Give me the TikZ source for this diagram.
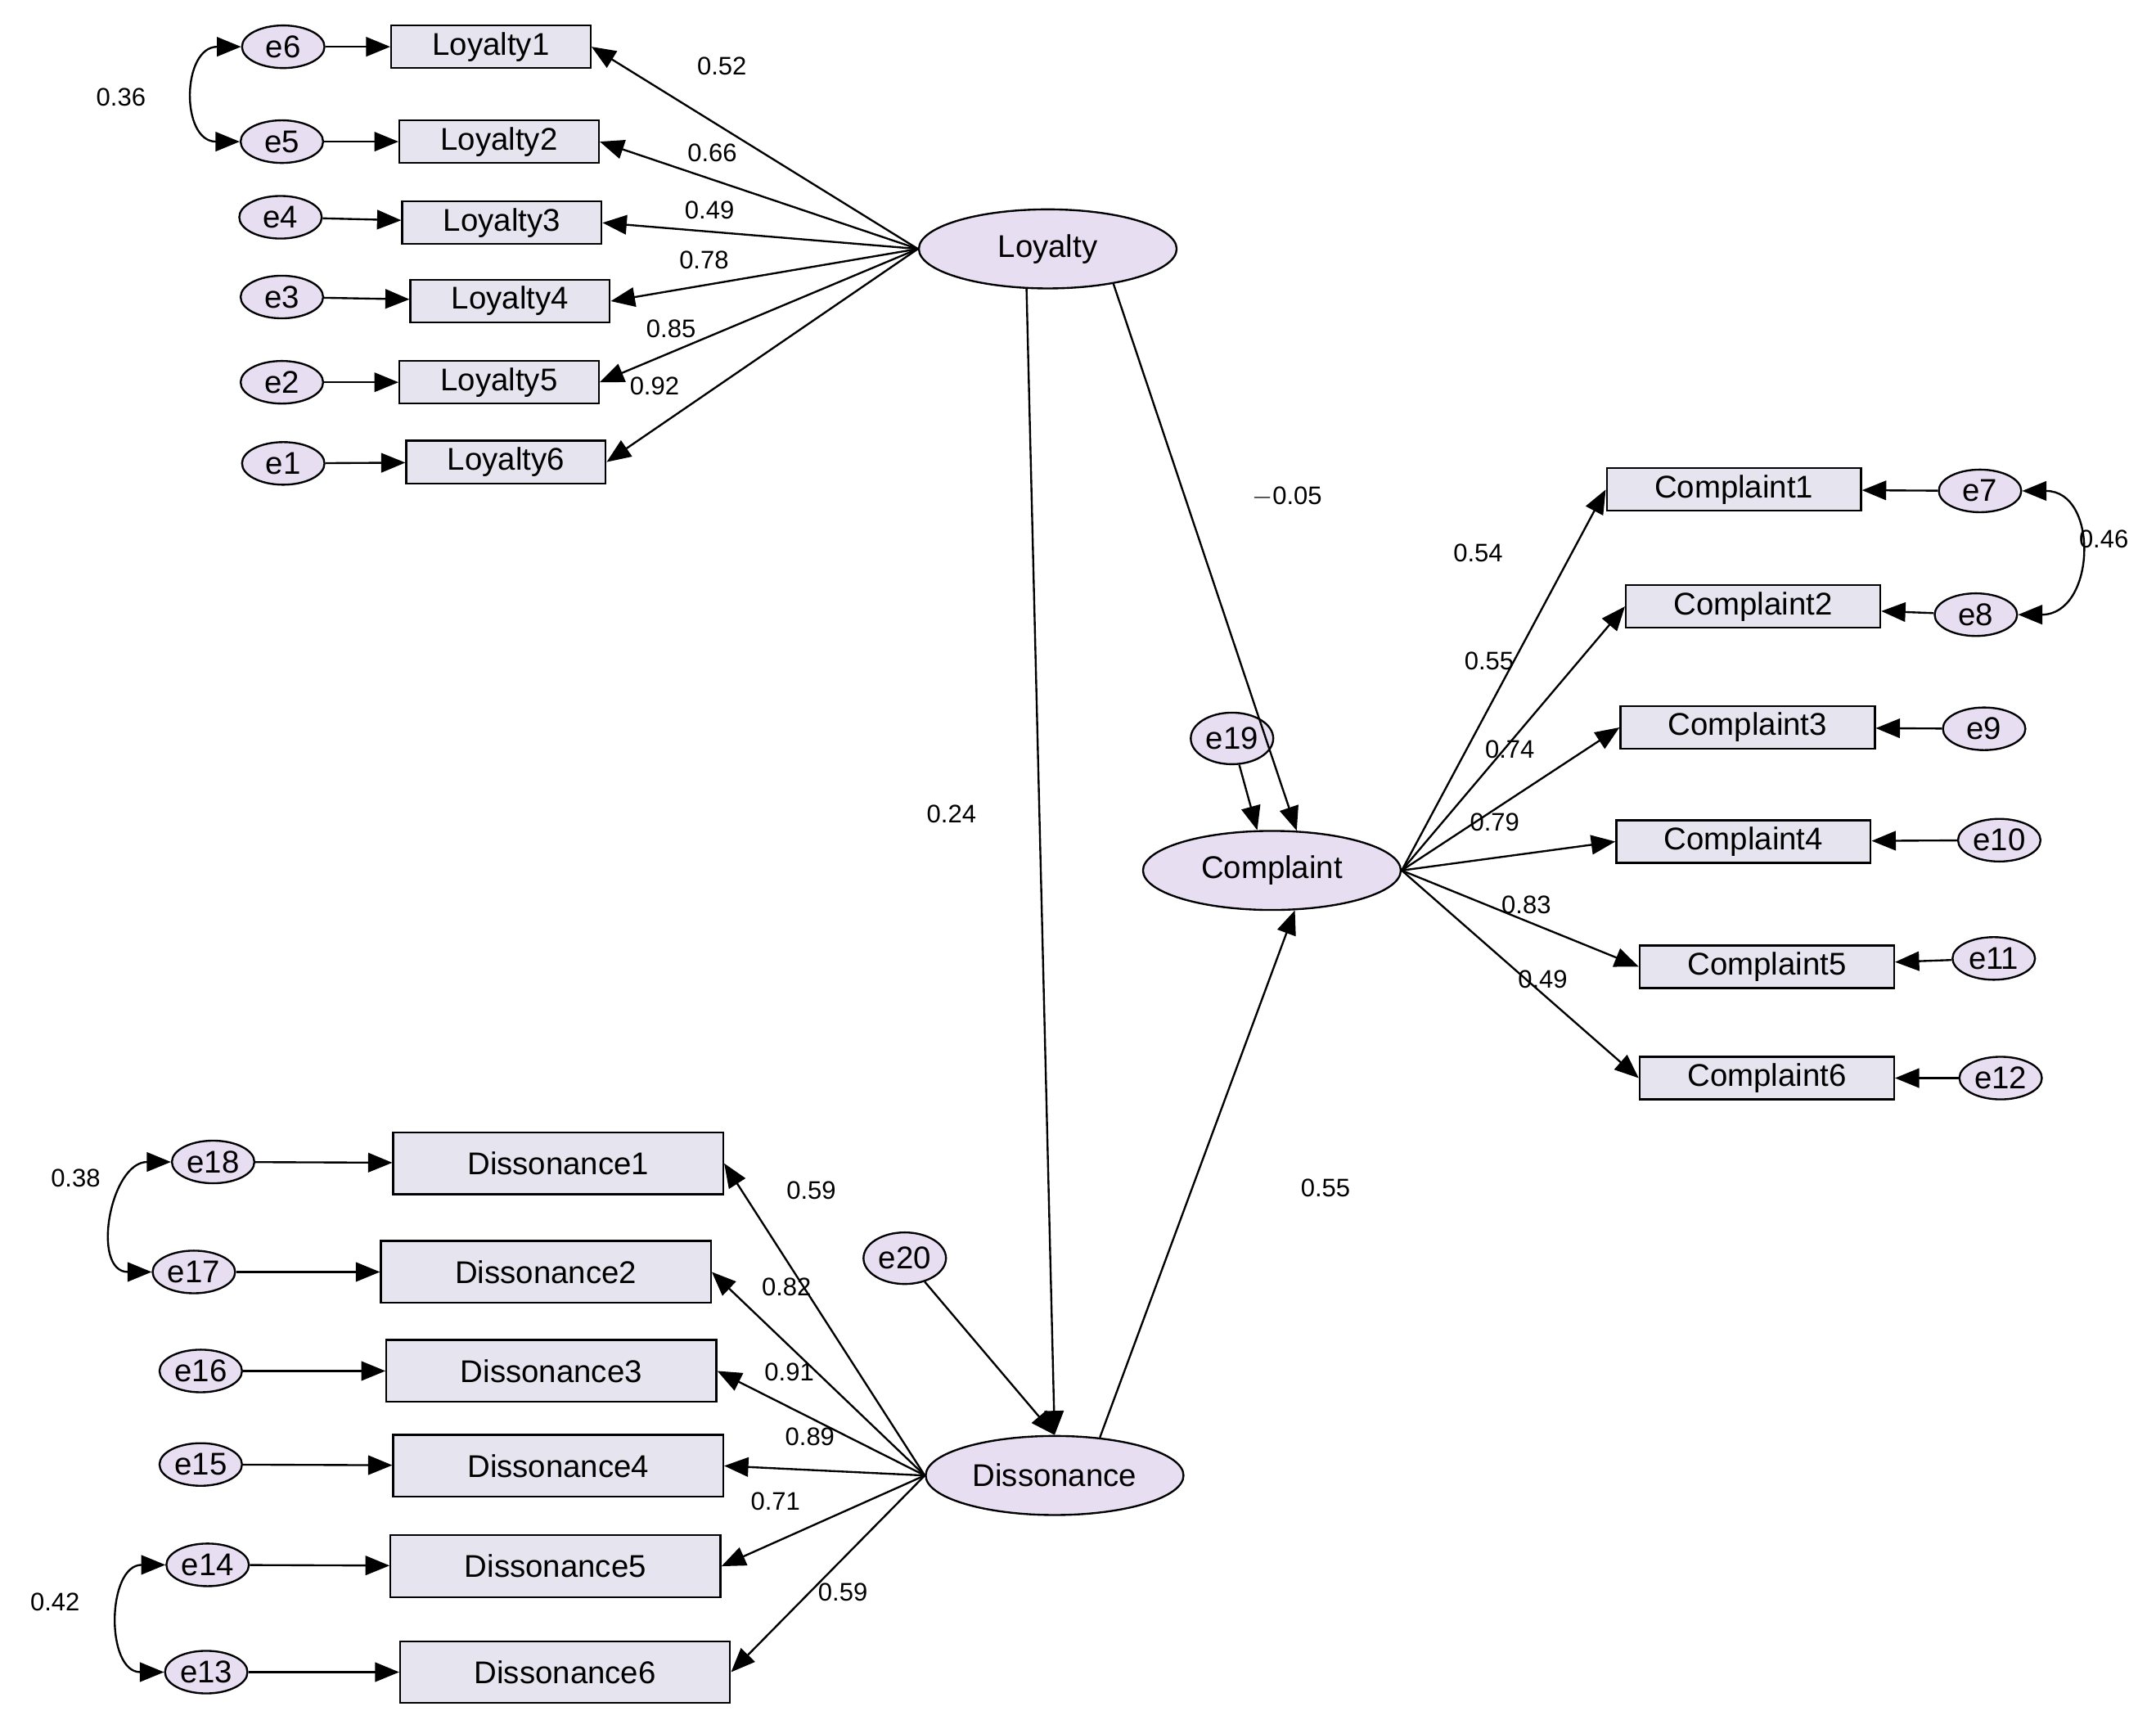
\documentclass[tikz,border=0pt]{standalone}
\usepackage{fontspec}
\setmainfont{Liberation Sans}
\usetikzlibrary{shapes.geometric,arrows.meta}
\definecolor{latfill}{RGB}{232,222,242}
\definecolor{boxfill}{RGB}{230,228,238}
\tikzset{
  lat/.style={ellipse, draw, thick, fill=latfill, minimum width=3.75cm, minimum height=1.15cm, font=\fontsize{13}{13}\selectfont},
  err/.style={ellipse, draw, thick, fill=latfill, minimum width=1.2cm, minimum height=0.62cm, inner sep=0pt, font=\fontsize{13}{13}\selectfont},
  obs/.style={rectangle, draw, thick, fill=boxfill, minimum height=0.62cm, inner sep=1pt, font=\fontsize{13}{13}\selectfont},
  lbl/.style={font=\fontsize{10.5}{10.5}\selectfont},
  arr/.style={thick, -{Triangle[length=10pt, width=8pt]}},
  cov/.style={thick, {Triangle[length=10pt, width=8pt]}-{Triangle[length=10pt, width=8pt]}}
}
\begin{document}
\begin{tikzpicture}[x=0.02cm, y=-0.02cm]
    \useasboundingbox (0,0) rectangle (1568,1257);
    %latent variables
    \node[lat] (loy) at (762,181) {Loyalty};
    \node[lat] (comp) at (925,633) {Complaint};
    \node[lat] (diss) at (767,1073) {Dissonance};
    %Loyalty items
    \foreach \i/\x/\y/\ex/\ey/\en in {1/357/34/206/34/e6, 2/363/103/205/103/e5, 3/365/162/204/158/e4, 4/371/219/205/216/e3, 5/363/278/205/278/e2, 6/368/336/206/337/e1} {
        \node[obs, minimum width=2.9cm] (loy\i) at (\x,\y) {Loyalty\i};
        \node[err] (eloy\i) at (\ex,\ey) {\en};
        \draw[arr] (eloy\i) -- (loy\i);
        \draw[arr] (loy.west) -- (loy\i.east);
    }
    %Complaint items
    \foreach \i/\x/\y/\ex/\ey/\en in {1/1261/356/1440/357/e7, 2/1275/441/1437/447/e8, 3/1271/529/1443/530/e9, 4/1268/612/1454/611/e10, 5/1285/703/1450/697/e11, 6/1285/784/1455/784/e12} {
        \node[obs, minimum width=3.7cm] (comp\i) at (\x,\y) {Complaint\i};
        \node[err] (ecomp\i) at (\ex,\ey) {\en};
        \draw[arr] (ecomp\i) -- (comp\i);
        \draw[arr] (comp.east) -- (comp\i.west);
    }
    %Dissonance items
    \foreach \i/\x/\y/\ex/\ey/\en in {1/406/846/155/845/e18, 2/397/925/141/925/e17, 3/401/997/146/997/e16, 4/406/1066/146/1065/e15, 5/404/1139/151/1138/e14, 6/411/1216/150/1216/e13} {
        \node[obs, minimum width=4.8cm, minimum height=0.9cm] (diss\i) at (\x,\y) {Dissonance\i};
        \node[err] (ediss\i) at (\ex,\ey) {\en};
        \draw[arr] (ediss\i) -- (diss\i);
        \draw[arr] (diss.west) -- (diss\i.east);
    }
    %disturbances
    \node[err, minimum height=0.75cm] (e19) at (896,537) {e19};
    \node[err, minimum height=0.75cm] (e20) at (658,915) {e20};
    \draw[arr] (e19) -- (comp.110);
    \draw[arr] (e20) -- (diss.north);
    %structural paths
    \draw[arr] (loy.-118) -- (diss.north);
    \draw[arr] (loy.-28) -- (comp.58);
    \draw[arr] (diss.40) -- (comp.-60);
    %covariances
    \draw[cov] (eloy1.west) to[out=180, in=180, looseness=1.6] (eloy2.west);
    \draw[cov] (ecomp1.east) to[out=0, in=0, looseness=1.6] (ecomp2.east);
    \draw[cov] (ediss1.west) to[out=180, in=180, looseness=1.4] (ediss2.west);
    \draw[cov] (ediss5.west) to[out=180, in=180, looseness=1.4] (ediss6.west);
    %estimates
    \foreach \x/\y/\t in {525/48/0.52, 518/111/0.66, 516/153/0.49, 512/189/0.78, 488/239/0.85, 476/281/0.92, 88/71/0.36,
        1075/402/0.54, 1083/481/0.55, 1098/545/0.74, 1087/598/0.79, 1110/658/0.83, 1122/712/0.49, 1530/392/0.46,
        590/866/0.59, 572/936/0.82, 574/998/0.91, 589/1045/0.89, 564/1092/0.71, 613/1158/0.59, 55/857/0.38, 40/1165/0.42,
        692/592/0.24, 964/864/0.55} {
        \node[lbl] at (\x,\y) {\t};
    }
    \node[lbl] at (936,361) {$-$0.05};
\end{tikzpicture}
\end{document}
